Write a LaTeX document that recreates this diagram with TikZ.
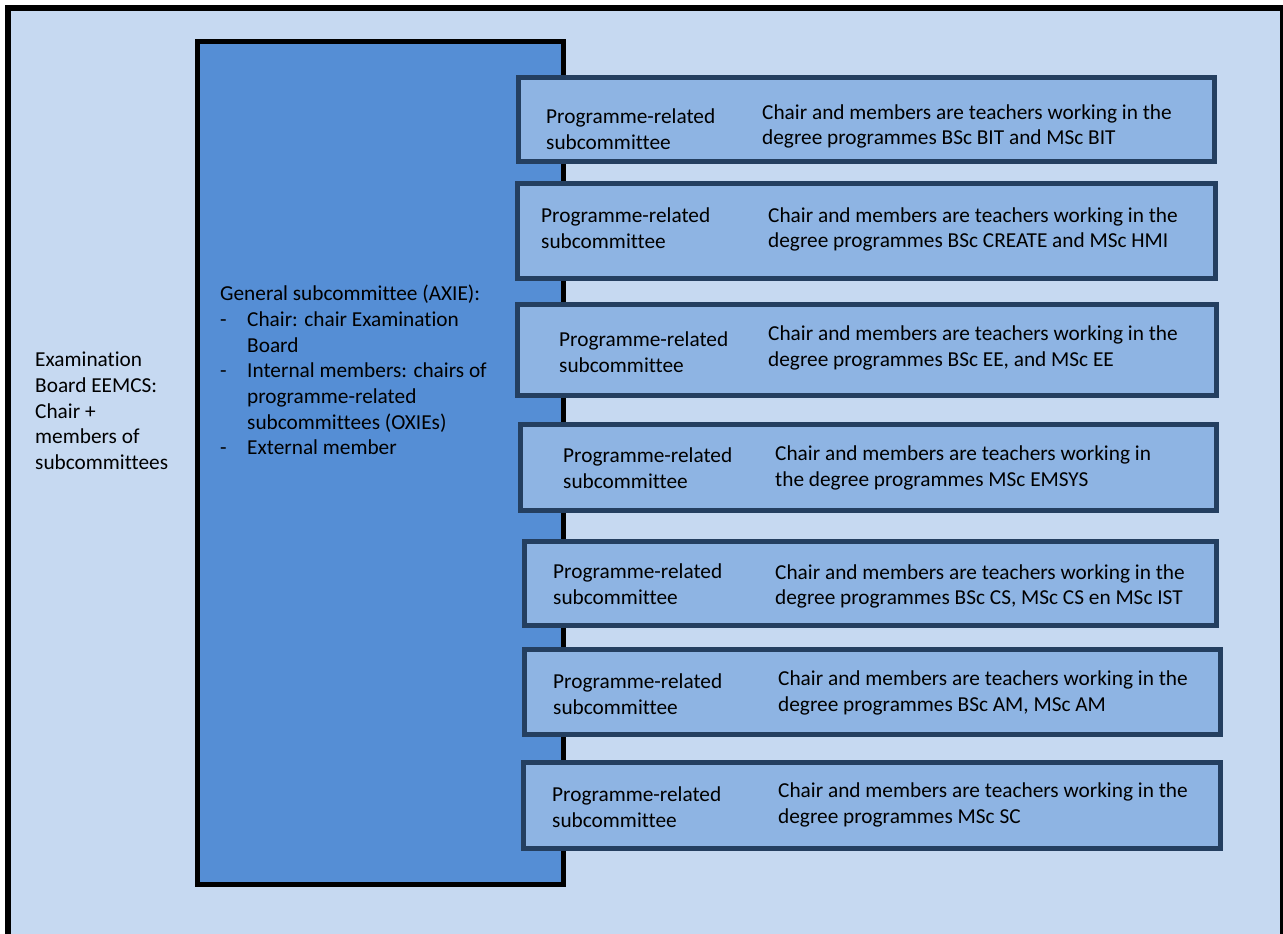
\documentclass[tikz,border=0pt]{standalone}
\usepackage{fontspec}
\setmainfont{Carlito}[Ligatures={NoCommon}]
\definecolor{bglight}{HTML}{C6D9F1}
\definecolor{genblue}{HTML}{558ED5}
\definecolor{progfill}{HTML}{8EB4E3}
\definecolor{progline}{HTML}{243F60}
\newcommand{\dashitem}{\makebox[27pt][l]{-}}
\newcommand{\contitem}{\hspace*{27pt}}
\begin{document}
\begin{tikzpicture}[x=1pt,y=-1pt,
  txt/.style={inner sep=0pt, anchor=west, align=left, font=\fontsize{21.3}{25.7}\selectfont},
  genbox/.style={draw=black, line width=5pt, fill=genblue, inner sep=0pt},
  progbox/.style={draw=progline, line width=5pt, fill=progfill, inner sep=0pt},
  outerbox/.style={draw=black, line width=6pt, fill=bglight}]
\useasboundingbox (0,0) rectangle (1283,934);
\clip (0,0) rectangle (1283,934);
\fill[white] (0,0) rectangle (1283,934);
\draw[outerbox] (8,8) rectangle (1283,960);
\node[txt] (eb) at (35,411) {Examination\\Board EEMCS:\\Chair +\\members of\\subcommittees};
\node[genbox, minimum width=366pt, minimum height=843pt] (gen) at (380.5,463) {};
\node[txt] (gent) at (220,370) {General subcommittee (AXIE):\\
\dashitem Chair: chair Examination\\
\contitem Board\\
\dashitem Internal members: chairs of\\
\contitem programme-related\\
\contitem subcommittees (OXIEs)\\
\dashitem External member};
% programme boxes
\node[progbox, minimum width=696pt, minimum height=84pt] (p1) at (866.5,119.5) {};
\node[progbox, minimum width=698pt, minimum height=95pt] (p2) at (866.5,231) {};
\node[progbox, minimum width=699pt, minimum height=91pt] (p3) at (867,350) {};
\node[progbox, minimum width=696pt, minimum height=86pt] (p4) at (868.5,467.5) {};
\node[progbox, minimum width=692pt, minimum height=84pt] (p5) at (870.5,583.5) {};
\node[progbox, minimum width=696pt, minimum height=85pt] (p6) at (872.5,692) {};
\node[progbox, minimum width=697pt, minimum height=86pt] (p7) at (872,805.5) {};
% texts
\node[txt] (p1l) at (546,129) {Programme-related\\subcommittee};
\node[txt] (p1r) at (762,126.5) {Chair and members are teachers working in the\\degree programmes BSc BIT and MSc BIT};
\node[txt] (p2l) at (541,228) {Programme-related\\subcommittee};
\node[txt] (p2r) at (768,229.5) {Chair and members are teachers working in the\\degree programmes BSc CREATE and MSc HMI};
\node[txt] (p3l) at (559,352.5) {Programme-related\\subcommittee};
\node[txt] (p3r) at (768,348) {Chair and members are teachers working in the\\degree programmes BSc EE, and MSc EE};
\node[txt] (p4l) at (563,468.5) {Programme-related\\subcommittee};
\node[txt] (p4r) at (775,468) {Chair and members are teachers working in\\the degree programmes MSc EMSYS};
\node[txt] (p5l) at (553,584.5) {Programme-related\\subcommittee};
\node[txt] (p5r) at (775,586.5) {Chair and members are teachers working in the\\degree programmes BSc CS, MSc CS en MSc IST};
\node[txt] (p6l) at (553,694) {Programme-related\\subcommittee};
\node[txt] (p6r) at (778,693) {Chair and members are teachers working in the\\degree programmes BSc AM, MSc AM};
\node[txt] (p7l) at (552,807) {Programme-related\\subcommittee};
\node[txt] (p7r) at (778,805) {Chair and members are teachers working in the\\degree programmes MSc SC};
\end{tikzpicture}
\end{document}
